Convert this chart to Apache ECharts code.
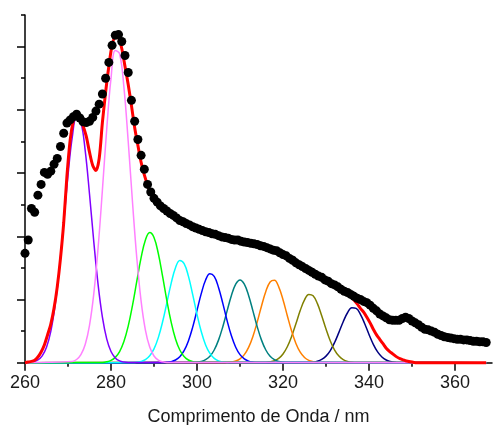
<!DOCTYPE html>
<html><head><meta charset="utf-8">
<script src="https://cdn.jsdelivr.net/npm/echarts@6/dist/echarts.min.js"></script>
<style>html,body{margin:0;padding:0;background:#fff}#c{width:493px;height:425px}</style>
</head><body><div id="c"></div>
<script>
// Spectrum sampled every 0.75 nm starting at 260 nm
const waveStart = 260, waveStep = 0.75;
const spectrum = [1.73,1.94,2.44,2.38,2.65,2.82,3.01,2.98,3.03,3.14,
3.23,3.42,3.63,3.79,3.84,3.89,3.93,3.87,3.81,3.80,
3.82,3.88,3.98,4.09,4.25,4.50,4.75,5.02,5.18,5.19,
5.08,4.86,4.59,4.15,3.82,3.53,3.28,3.06,2.82,2.70,
2.60,2.54,2.48,2.44,2.40,2.36,2.33,2.29,2.25,2.23,
2.20,2.18,2.15,2.13,2.11,2.09,2.07,2.06,2.04,2.03,
2.01,1.99,1.98,1.97,1.95,1.94,1.94,1.92,1.91,1.90,
1.89,1.88,1.87,1.85,1.84,1.82,1.80,1.78,1.77,1.74,
1.71,1.69,1.65,1.62,1.58,1.55,1.52,1.49,1.46,1.43,
1.40,1.37,1.35,1.31,1.29,1.25,1.23,1.20,1.16,1.13,
1.11,1.08,1.05,1.02,1.00,0.97,0.95,0.91,0.86,0.82,
0.77,0.74,0.71,0.68,0.67,0.67,0.67,0.70,0.72,0.70,
0.66,0.63,0.60,0.56,0.53,0.52,0.50,0.48,0.45,0.43,
0.41,0.40,0.39,0.38,0.37,0.37,0.36,0.36,0.35,0.34,
0.34,0.33,0.33,0.32];
// Total fit (red), same sampling
const envelope = [0.00,0.01,0.02,0.04,0.09,0.17,0.28,0.44,0.61,0.86,
1.20,1.65,2.21,2.95,3.52,3.83,3.96,3.90,3.75,3.58,
3.33,3.12,3.04,3.23,3.80,4.28,4.69,5.02,5.15,5.14,
4.97,4.69,4.40,4.07,3.72,3.44,3.17,2.97,2.81,2.69,
2.60,2.54,2.48,2.44,2.40,2.36,2.33,2.29,2.25,2.23,
2.20,2.18,2.15,2.13,2.11,2.09,2.07,2.06,2.04,2.03,
2.01,1.99,1.98,1.97,1.95,1.94,1.94,1.92,1.91,1.90,
1.89,1.88,1.87,1.85,1.84,1.82,1.80,1.78,1.77,1.74,
1.71,1.69,1.65,1.62,1.58,1.55,1.52,1.49,1.46,1.43,
1.40,1.37,1.35,1.31,1.29,1.25,1.23,1.20,1.16,1.13,
1.10,1.05,0.99,0.93,0.86,0.80,0.72,0.63,0.53,0.44,
0.37,0.30,0.23,0.18,0.14,0.10,0.07,0.05,0.03,0.02,
0.01,0,0,0,0,0,0,0,0,0,
0,0,0,0,0,0,0,0,0,0,
0,0,0,0];
// Fitted component peaks: values at integer wavelengths from the given start
const purpleStart = 261, purpleVals = [0.005,0.016,0.043,0.109,0.244,0.494,0.905,1.490,2.213,2.961,3.572,3.882,3.802,3.355,2.669,1.912,1.236,0.720,0.377,0.178,0.076,0.029,0.010,0.003];
const pinkStart = 271, pinkVals = [0.018,0.050,0.127,0.288,0.591,1.092,1.819,2.730,3.690,4.497,4.939,4.887,4.359,3.503,2.537,1.656,0.974,0.516,0.247,0.106,0.041,0.014,0.004];
const greenStart = 278, greenVals = [0.005,0.014,0.036,0.084,0.176,0.335,0.578,0.907,1.289,1.661,1.942,2.059,1.980,1.727,1.366,0.980,0.638,0.376,0.201,0.098,0.043,0.017,0.006];
const cyanStart = 285, cyanVals = [0.002,0.007,0.020,0.049,0.109,0.219,0.397,0.647,0.951,1.259,1.503,1.617,1.567,1.369,1.077,0.764,0.489,0.281,0.146,0.068,0.029,0.011,0.004];
const blueStart = 292, blueVals = [0.002,0.006,0.017,0.043,0.095,0.191,0.345,0.563,0.828,1.096,1.308,1.407,1.364,1.191,0.938,0.665,0.425,0.245,0.127,0.060,0.025,0.010,0.003];
const tealStart = 299, tealVals = [0.002,0.007,0.019,0.047,0.102,0.201,0.357,0.570,0.820,1.064,1.244,1.310,1.244,1.064,0.820,0.570,0.357,0.201,0.102,0.047,0.019,0.007,0.002];
const orangeStart = 307, orangeVals = [0.003,0.010,0.026,0.060,0.127,0.242,0.415,0.643,0.897,1.127,1.277,1.304,1.200,0.995,0.743,0.501,0.304,0.166,0.082,0.036,0.015,0.005];
const oliveStart = 316, oliveVals = [0.004,0.012,0.030,0.068,0.138,0.252,0.415,0.616,0.824,0.994,1.080,1.058,0.934,0.743,0.532,0.344,0.200,0.105,0.050,0.021,0.008,0.003];
const navyStart = 326, navyVals = [0.003,0.009,0.022,0.051,0.104,0.192,0.320,0.480,0.648,0.790,0.868,0.859,0.766,0.616,0.446,0.291,0.171,0.091,0.043,0.019,0.007,0.003];

const xMajorTicks = [260,280,300,320,340,360];
const xMinorTicks = [270,290,310,330,350];
const yMajorTicks = [0,1,2,3,4,5];
const yMinorTicks = [0.5,1.5,2.5,3.5,4.5,5.5];
const xName = 'Comprimento de Onda / nm';

const waves = spectrum.map((_, i) => +(waveStart + i * waveStep).toFixed(2));
const xEnd = waves[waves.length - 1];
function compData(start, vals) {
  const d = [[waveStart, 0]];
  vals.forEach((v, i) => d.push([start + i, v]));
  d.push([xEnd, 0]);
  return d;
}
const components = [
  {color:'#000080', start:navyStart, vals:navyVals},
  {color:'#808000', start:oliveStart, vals:oliveVals},
  {color:'#FF8000', start:orangeStart, vals:orangeVals},
  {color:'#008080', start:tealStart, vals:tealVals},
  {color:'#0000FF', start:blueStart, vals:blueVals},
  {color:'#00FFFF', start:cyanStart, vals:cyanVals},
  {color:'#00FF00', start:greenStart, vals:greenVals},
  {color:'#8000FF', start:purpleStart, vals:purpleVals},
  {color:'#FF80FF', start:pinkStart, vals:pinkVals}
];

const axisCol = '#000';
const txtCol = '#1a1a1a';
const font = 'Liberation Sans, Arial, sans-serif';
const series = components.map(c => ({
  type:'line', data:compData(c.start, c.vals), smooth:0.4, showSymbol:false, clip:false,
  lineStyle:{color:c.color, width:1.5}, z:2, animation:false
}));
series.push({type:'line', data:waves.map((w,i)=>[w, envelope[i]]), smooth:0.3, showSymbol:false, clip:false,
  lineStyle:{color:'#FF0000', width:3}, z:3, animation:false});
series.push({type:'scatter', data:waves.map((w,i)=>[w, spectrum[i]]), symbol:'circle', symbolSize:9, clip:false,
  itemStyle:{color:'#000', opacity:1, borderWidth:0}, z:4, animation:false});

const chart = echarts.init(document.getElementById('c'), null, {renderer:'canvas'});
chart.setOption({
  backgroundColor:'#fff',
  animation:false,
  grid:{left:25, right:1, top:15, bottom:62.3, containLabel:false, outerBoundsMode:'none'},
  xAxis:[
    {type:'value', min:260, max:368.6, position:'bottom',
     axisLine:{show:true, onZero:false, lineStyle:{color:axisCol, width:1.5}},
     axisTick:{show:true, customValues:xMajorTicks, length:8, lineStyle:{color:axisCol, width:1.5}},
     axisLabel:{show:true, customValues:xMajorTicks, fontSize:18, color:txtCol, margin:11, fontFamily:font},
     splitLine:{show:false},
     name:xName, nameLocation:'middle', nameGap:45,
     nameTextStyle:{fontSize:18, color:txtCol, fontFamily:font}},
    {type:'value', min:260, max:368.6, position:'bottom',
     axisLine:{show:false, onZero:false},
     axisTick:{show:true, customValues:xMinorTicks, length:4, lineStyle:{color:axisCol, width:1.5}},
     axisLabel:{show:false}, splitLine:{show:false}}
  ],
  yAxis:[
    {type:'value', min:0, max:5.5, position:'left',
     axisLine:{show:true, onZero:false, lineStyle:{color:axisCol, width:1.5}},
     axisTick:{show:true, customValues:yMajorTicks, length:8, lineStyle:{color:axisCol, width:1.5}},
     axisLabel:{show:false}, splitLine:{show:false}},
    {type:'value', min:0, max:5.5, position:'left',
     axisLine:{show:false, onZero:false},
     axisTick:{show:true, customValues:yMinorTicks, length:4, lineStyle:{color:axisCol, width:1.5}},
     axisLabel:{show:false}, splitLine:{show:false}}
  ],
  series:series
});
</script></body></html>
